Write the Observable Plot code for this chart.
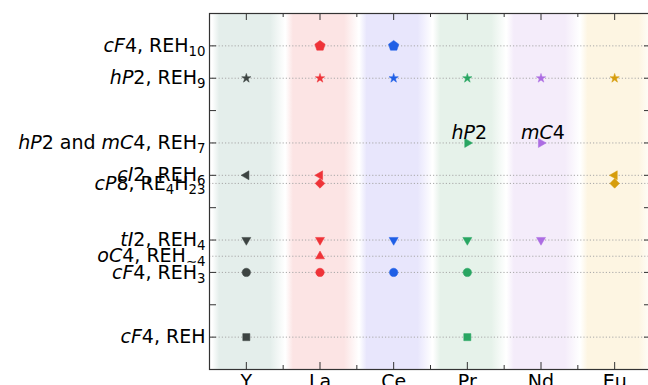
<!DOCTYPE html>
<html>
<head>
<meta charset="utf-8">
<script src="https://cdn.jsdelivr.net/npm/d3@7"></script>
<script src="https://cdn.jsdelivr.net/npm/@observablehq/plot@0.6"></script>
<style>
  html, body { margin: 0; padding: 0; background: #fff; overflow: hidden; }
  svg { font-family: "DejaVu Sans", sans-serif; }
</style>
</head>
<body>
<script>
// ---------------- data ----------------
const elements = ["Y", "La", "Ce", "Pr", "Nd", "Eu"];
const elementColors = ["#3d4442", "#ef3338", "#1f5fe6", "#29a662", "#ac6ce2", "#d69d0c"];
const bandColors = ["#e4eeeb", "#fce4e4", "#e8e6fc", "#e6f2ea", "#f4ecfa", "#fdf5e2"];

// structure (y) values, labels and marker shapes
const structureValues = [10, 9, 7, 6, 5.75, 4, 3.5, 3, 1];
const structureLabels = [
  "*cF*4, REH_{10}",
  "*hP*2, REH_{9}",
  "*hP*2 and *mC*4, REH_{7}",
  "*cI*2, REH_{6}",
  "*cP*8, RE_{4}H_{23}",
  "*tI*2, REH_{4}",
  "*oC*4, REH_{∼4}",
  "*cF*4, REH_{3}",
  "*cF*4, REH"
];
const structureSymbols = ["pentagon", "star", "triRight", "triLeft", "diamond", "triDown", "triUp", "circle", "square"];

// observed phases per element (structure values)
const phasesY  = [9, 6, 4, 3, 1];
const phasesLa = [10, 9, 6, 5.75, 4, 3.5, 3];
const phasesCe = [10, 9, 4, 3];
const phasesPr = [9, 7, 4, 3, 1];
const phasesNd = [9, 7, 4];
const phasesEu = [9, 6, 5.75];
const phases = [phasesY, phasesLa, phasesCe, phasesPr, phasesNd, phasesEu];

// annotations
const annotationElements = ["Pr", "Nd"];
const annotationValues = [7, 7];
const annotationLabels = ["*hP*2", "*mC*4"];

// ---------------- layout ----------------
const W = 652, H = 385, mL = 209, mR = 1, mT = 13, mB = 16;
const fw = W - mL - mR, fh = H - mT - mB;
const majorLen = 7, minorLen = 4;
const xIdx = elements.map((_, i) => i + 1);
const xMinor = elements.slice(1).map((_, i) => i + 1.5);
const yMajor = d3.range(1, 11);

const rows = elements.flatMap((e, i) => phases[i].map(v => ({
  x: i + 1, y: v, color: elementColors[i], sym: structureSymbols[structureValues.indexOf(v)]
})));
const bandRows = elements.map((e, i) => ({x1: i + 1 - 0.46, x2: i + 1 + 0.53, fill: `url(#band${i})`}));
const annRows = annotationElements.map((e, i) => ({x: elements.indexOf(e) + 1, y: annotationValues[i], text: annotationLabels[i]}));

const deg = Math.PI / 180;
const polygon = (angles) => ({
  draw(ctx, size) {
    const r = Math.sqrt(size / Math.PI);
    angles.forEach((a, j) => {
      const px = r * Math.sin(a * deg), py = -r * Math.cos(a * deg);
      if (j) ctx.lineTo(px, py); else ctx.moveTo(px, py);
    });
    ctx.closePath();
  }
});
const symbolDefs = {
  pentagon: {symbol: polygon([0, 72, 144, 216, 288]), r: 5.4},
  star:     {symbol: "star", r: 2.9},
  triRight: {symbol: polygon([90, 210, 330]), r: 5.2},
  triLeft:  {symbol: polygon([270, 30, 150]), r: 5.2},
  diamond:  {symbol: polygon([0, 90, 180, 270]), r: 4.8},
  triDown:  {symbol: polygon([180, 300, 60]), r: 5.2},
  triUp:    {symbol: polygon([0, 120, 240]), r: 5.2},
  circle:   {symbol: "circle", r: 4.2},
  square:   {symbol: "square", r: 4.0}
};

const defs = () => {
  const g = d3.create("svg:defs");
  bandColors.forEach((c, i) => {
    const lg = g.append("linearGradient").attr("id", `band${i}`)
      .attr("x1", 0).attr("x2", 1).attr("y1", 0).attr("y2", 0);
    [[0, 0], [0.1, 1], [0.8, 1], [1, 0]].forEach(([o, a]) =>
      lg.append("stop").attr("offset", o).attr("stop-color", c).attr("stop-opacity", a));
  });
  return g.node();
};

const tickStroke = "#333";
const dotMarks = Object.keys(symbolDefs).map(name => Plot.dot(rows.filter(d => d.sym === name), {
  x: "x", y: "y", fill: "color", stroke: "color", strokeWidth: 0.5,
  symbol: symbolDefs[name].symbol, r: symbolDefs[name].r
}));

const svg = Plot.plot({
  width: W, height: H,
  marginLeft: mL, marginRight: mR, marginTop: mT, marginBottom: mB,
  style: {maxWidth: "none", fontFamily: "DejaVu Sans", background: "#fff"},
  x: {domain: [0.5, 6.5], axis: null, label: null},
  y: {domain: [0, 11], axis: null, label: null},
  color: {type: "identity"},
  marks: [
    defs,
    Plot.rect(bandRows, {x1: "x1", x2: "x2", fill: "fill"}),
    Plot.ruleY(structureValues, {stroke: "#a8a8a8", strokeWidth: 1, strokeDasharray: "1.2,2"}),
    // inward ticks
    Plot.tickX(xIdx, {x: d => d, insetTop: fh - majorLen, stroke: tickStroke}),
    Plot.tickX(xIdx, {x: d => d, insetBottom: fh - majorLen, stroke: tickStroke}),
    Plot.tickX(xMinor, {x: d => d, insetTop: fh - minorLen, stroke: tickStroke}),
    Plot.tickX(xMinor, {x: d => d, insetBottom: fh - minorLen, stroke: tickStroke}),
    Plot.tickY(yMajor, {y: d => d, insetRight: fw - majorLen, stroke: tickStroke}),
    Plot.tickY(yMajor, {y: d => d, insetLeft: fw - majorLen, stroke: tickStroke}),
    Plot.frame({stroke: tickStroke, strokeWidth: 1.2}),
    ...dotMarks,
    Plot.text(annRows, {x: "x", y: "y", text: "text", fontSize: 19, textAnchor: "middle", lineAnchor: "bottom", dy: -4, dx: 2, fill: "#000"}),
    Plot.axisX(xIdx, {anchor: "bottom", tickSize: 0, tickPadding: 5, tickFormat: i => elements[i - 1], fontSize: 19, fill: "#000"}),
    Plot.axisY(structureValues, {anchor: "left", tickSize: 0, tickPadding: 4, tickFormat: v => structureLabels[structureValues.indexOf(v)], fontSize: 19, fill: "#000"})
  ]
});

// rich text: *italic*, _{subscript}
const subShift = 4;
function richify(textEl) {
  const s = textEl.textContent;
  if (!/[*]|_\{/.test(s)) return;
  const parts = s.split(/(\*[^*]+\*|_\{[^}]+\})/).filter(p => p);
  while (textEl.firstChild) textEl.removeChild(textEl.firstChild);
  let shifted = false;
  for (const p of parts) {
    const t = document.createElementNS("http://www.w3.org/2000/svg", "tspan");
    if (p.startsWith("_{")) {
      t.textContent = p.slice(2, -1);
      t.style.fontSize = "0.7em";
      if (!shifted) { t.setAttribute("dy", subShift); shifted = true; }
    } else {
      if (p.startsWith("*")) { t.textContent = p.slice(1, -1); t.setAttribute("font-style", "italic"); }
      else t.textContent = p;
      if (shifted) { t.setAttribute("dy", -subShift); shifted = false; }
    }
    textEl.appendChild(t);
  }
}
svg.querySelectorAll("text").forEach(richify);
document.body.appendChild(svg);
</script>
</body>
</html>
